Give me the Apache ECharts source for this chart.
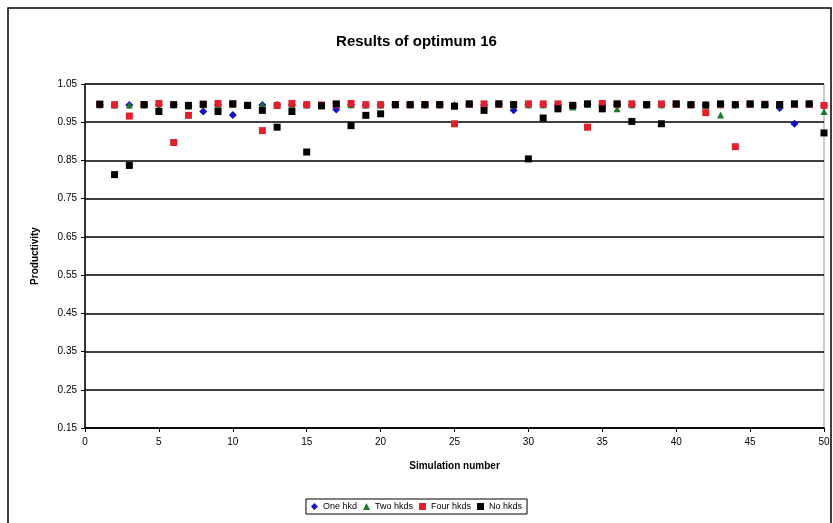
<!DOCTYPE html>
<html><head><meta charset="utf-8">
<script src="https://cdn.jsdelivr.net/npm/echarts@6/dist/echarts.min.js"></script>
<style>html,body{margin:0;padding:0;background:#fff}#c{width:833px;height:523px}</style>
</head><body><div id="c"></div>
<script>
const simulations = Array.from({length:50},(_,i)=>i+1);
const oneHkd = [0.996,0.995,0.995,0.996,0.995,0.996,0.994,0.978,0.996,0.969,0.994,0.995,0.995,0.996,0.995,0.994,0.983,0.996,0.995,0.995,0.996,0.996,0.996,0.996,0.994,0.997,0.995,0.997,0.981,0.996,0.996,0.996,0.993,0.997,0.996,0.996,0.996,0.996,0.996,0.997,0.996,0.995,0.996,0.995,0.997,0.996,0.987,0.946,0.997,0.993];
const twoHkds = [0.996,0.995,0.995,0.996,0.990,0.996,0.992,0.996,0.996,0.997,0.994,0.996,0.994,0.996,0.995,0.993,0.996,0.996,0.995,0.995,0.996,0.996,0.996,0.996,0.993,0.997,0.996,0.997,0.995,0.996,0.996,0.996,0.990,0.997,0.995,0.985,0.996,0.996,0.996,0.997,0.996,0.995,0.969,0.996,0.997,0.996,0.995,0.997,0.997,0.978];
const fourHkds = [0.997,0.996,0.966,0.996,0.999,0.897,0.968,0.997,0.999,0.998,0.994,0.928,0.994,0.999,0.996,0.995,0.996,0.999,0.996,0.996,0.996,0.996,0.996,0.996,0.946,0.997,0.998,0.997,0.996,0.998,0.998,0.998,0.994,0.937,0.999,0.997,0.998,0.996,0.998,0.997,0.996,0.975,0.996,0.886,0.997,0.997,0.996,0.997,0.997,0.994];
const noHkds = [0.997,0.813,0.837,0.996,0.978,0.996,0.994,0.997,0.978,0.998,0.994,0.981,0.937,0.978,0.872,0.993,0.998,0.941,0.968,0.972,0.996,0.996,0.996,0.996,0.992,0.998,0.981,0.998,0.996,0.854,0.961,0.985,0.994,0.998,0.985,0.998,0.952,0.996,0.946,0.998,0.996,0.995,0.998,0.996,0.998,0.996,0.996,0.998,0.998,0.922];
const seriesNames = ['One hkd','Two hkds','Four hkds','No hkds'];

const chart = echarts.init(document.getElementById('c'));
const F = 'Liberation Sans, Arial, sans-serif';
function pts(arr){ return simulations.map((s,i)=>[s,arr[i]]); }
chart.setOption({
  animation:false,
  backgroundColor:'#fff',
  graphic:[{type:'rect',shape:{x:8,y:8,width:823,height:540},style:{fill:'none',stroke:'#000',lineWidth:1.5},silent:true}],
  title:{text:'Results of optimum 16',left:'center',top:29,textStyle:{fontFamily:F,fontSize:15,fontWeight:'bold',color:'#000'}},
  legend:{bottom:9,left:'center',data:seriesNames,borderColor:'#000',borderWidth:1,padding:[3,5],itemWidth:7,itemHeight:7,itemGap:6,
    textStyle:{fontFamily:F,fontSize:9,color:'#000'}},
  grid:{left:85,right:9,top:84,bottom:95,show:true,borderColor:'#999',borderWidth:1},
  xAxis:{type:'value',min:0,max:50,interval:5,name:'Simulation number',nameLocation:'middle',nameGap:33,
    nameTextStyle:{fontFamily:F,fontSize:10,fontWeight:'bold',color:'#000'},
    axisLine:{lineStyle:{color:'#000',width:1.5}},axisTick:{show:true,length:4,lineStyle:{color:'#000'}},
    axisLabel:{fontFamily:F,fontSize:10,color:'#000',margin:9},splitLine:{show:false}},
  yAxis:{type:'value',min:0.15,max:1.05,interval:0.1,name:'Productivity',nameLocation:'middle',nameGap:45,
    nameTextStyle:{fontFamily:F,fontSize:10,fontWeight:'bold',color:'#000'},
    axisLine:{show:true,lineStyle:{color:'#000',width:1.5}},axisTick:{show:true,length:4,lineStyle:{color:'#000'}},
    axisLabel:{fontFamily:F,fontSize:10,color:'#000',margin:8,formatter:v=>v.toFixed(2)},
    splitLine:{show:true,lineStyle:{color:'#000',width:1.5}}},
  series:[
    {name:'One hkd',type:'scatter',symbol:'diamond',symbolSize:8,itemStyle:{color:'#1010c8',opacity:1},data:pts(oneHkd)},
    {name:'Two hkds',type:'scatter',symbol:'triangle',symbolSize:7,itemStyle:{color:'#1a7a2a',opacity:1},data:pts(twoHkds)},
    {name:'Four hkds',type:'scatter',symbol:'rect',symbolSize:7,itemStyle:{color:'#e0202a',opacity:1},data:pts(fourHkds)},
    {name:'No hkds',type:'scatter',symbol:'rect',symbolSize:7,itemStyle:{color:'#000',opacity:1},data:pts(noHkds)}
  ]
});
</script></body></html>
